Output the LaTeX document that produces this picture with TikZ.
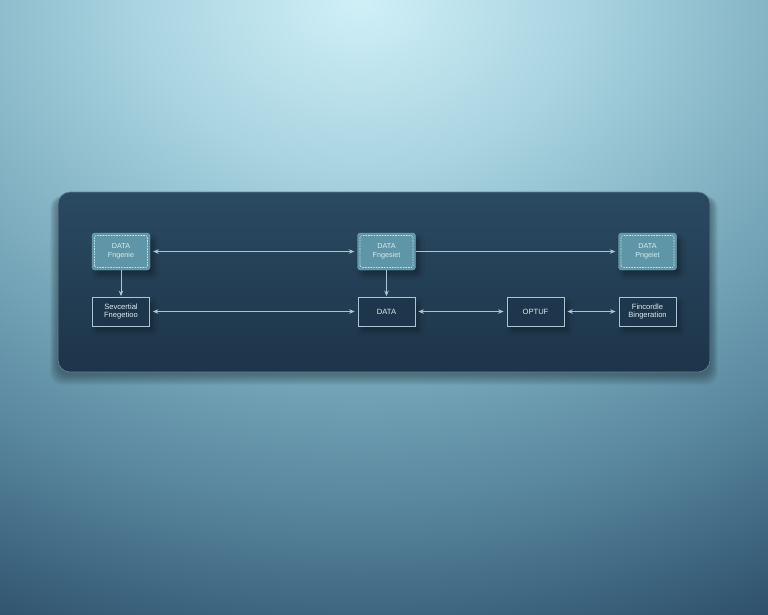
\documentclass[tikz,border=0pt]{standalone}
\usepackage{fontspec}
\setmainfont{Liberation Sans}
\usetikzlibrary{arrows.meta,shadows.blur}
\definecolor{panelt}{HTML}{2A4A62}
\definecolor{panelb}{HTML}{1D3449}
\definecolor{tealbox}{HTML}{5E95A7}
\definecolor{dashc}{HTML}{C6E2EA}
\definecolor{linec}{HTML}{A8C6D4}
\definecolor{txtc}{HTML}{DCEBF0}
\definecolor{bgA}{HTML}{D0F0F8}
\definecolor{bgB}{HTML}{A5D1DE}
\definecolor{bgC}{HTML}{72A3B6}
\definecolor{bgD}{HTML}{5A889F}
\definecolor{bgE}{HTML}{3E6680}
\definecolor{bgF}{HTML}{284660}
\pgfdeclareradialshading{bgsh}{\pgfpointorigin}{color(0bp)=(bgA); color(6.4bp)=(bgB); color(13.5bp)=(bgC); color(17.35bp)=(bgD); color(21.3bp)=(bgE); color(25bp)=(bgF); color(50bp)=(bgF)}
\tikzset{
  topbox/.style={rectangle, rounded corners=3pt, fill=tealbox, draw=tealbox!75!white,
    minimum width=58pt, minimum height=37pt, inner sep=1pt, align=center,
    text=txtc, font=\fontsize{7.2}{9}\selectfont,
    blur shadow={shadow xshift=4pt, shadow yshift=-5pt, shadow opacity=35, shadow blur radius=5pt},
    path picture={\draw[dashc, line width=0.6pt, dash pattern=on 1.6pt off 1.1pt, rounded corners=1.5pt]
      ([xshift=2.5pt,yshift=2.5pt]path picture bounding box.south west) rectangle
      ([xshift=-2.5pt,yshift=-2.5pt]path picture bounding box.north east);}},
  botbox/.style={rectangle, fill=panelb!90!panelt, draw=linec, line width=0.8pt,
    minimum width=57pt, minimum height=29pt, inner sep=1pt, align=center,
    text=txtc, font=\fontsize{7.6}{8.6}\selectfont,
    blur shadow={shadow xshift=4pt, shadow yshift=-5pt, shadow opacity=30, shadow blur radius=5pt}},
  conn/.style={draw=linec, line width=0.8pt, shorten <=3pt, shorten >=3pt},
  both/.style={conn, {Stealth[length=5.5pt,width=4.5pt]}-{Stealth[length=5.5pt,width=4.5pt]}},
  one/.style={conn, -{Stealth[length=5.5pt,width=4.5pt]}},
}
\begin{document}
\begin{tikzpicture}[x=1pt,y=-1pt]
\useasboundingbox (0,0) rectangle (768,614);
% background
\begin{scope}
\clip (0,0) rectangle (768,614);
\shade[shading=bgsh] (360,0) ellipse [x radius=950pt, y radius=720pt];
\end{scope}
% panel shadow
\foreach \i in {1,...,10}{
  \fill[black, opacity=0.035, rounded corners=12pt] (58-\i*0.8,192+4) rectangle (710+\i*0.8,372+2+\i*1.1);
}
% panel
\coordinate (pnw) at (58,192);
\coordinate (pse) at (710,372);
\shade[top color=panelt, bottom color=panelb, rounded corners=12pt] (pnw) rectangle (pse);
\draw[panelt!55!bgB, line width=0.6pt, rounded corners=12pt] (pnw) rectangle (pse);
% nodes
\node[topbox] (t1) at (121,251.5) {DATA\\Fngenie};
\node[topbox] (t2) at (386.5,251.5) {DATA\\Fngesiet};
\node[topbox] (t3) at (647.5,251.5) {DATA\\Pngeiet};
\node[botbox] (b1) at (121,311.5) {Sevcertial\\Fnegetioo};
\node[botbox] (b2) at (386.5,311.5) {DATA};
\node[botbox] (b3) at (535.5,311.5) {OPTUF};
\node[botbox] (b4) at (647.5,311.5) {Fincordle\\Bingeration};
% connectors
\draw[both] (t1) -- (t2);
\draw[one, shorten <=0pt] (t2) -- (t3);
\draw[one, shorten <=0pt, shorten >=0.5pt] (t1) -- (b1);
\draw[one, shorten <=0pt, shorten >=0.5pt] (t2) -- (b2);
\draw[both] (b1) -- (b2);
\draw[both] (b2) -- (b3);
\draw[both] (b3) -- (b4);
\end{tikzpicture}
\end{document}
